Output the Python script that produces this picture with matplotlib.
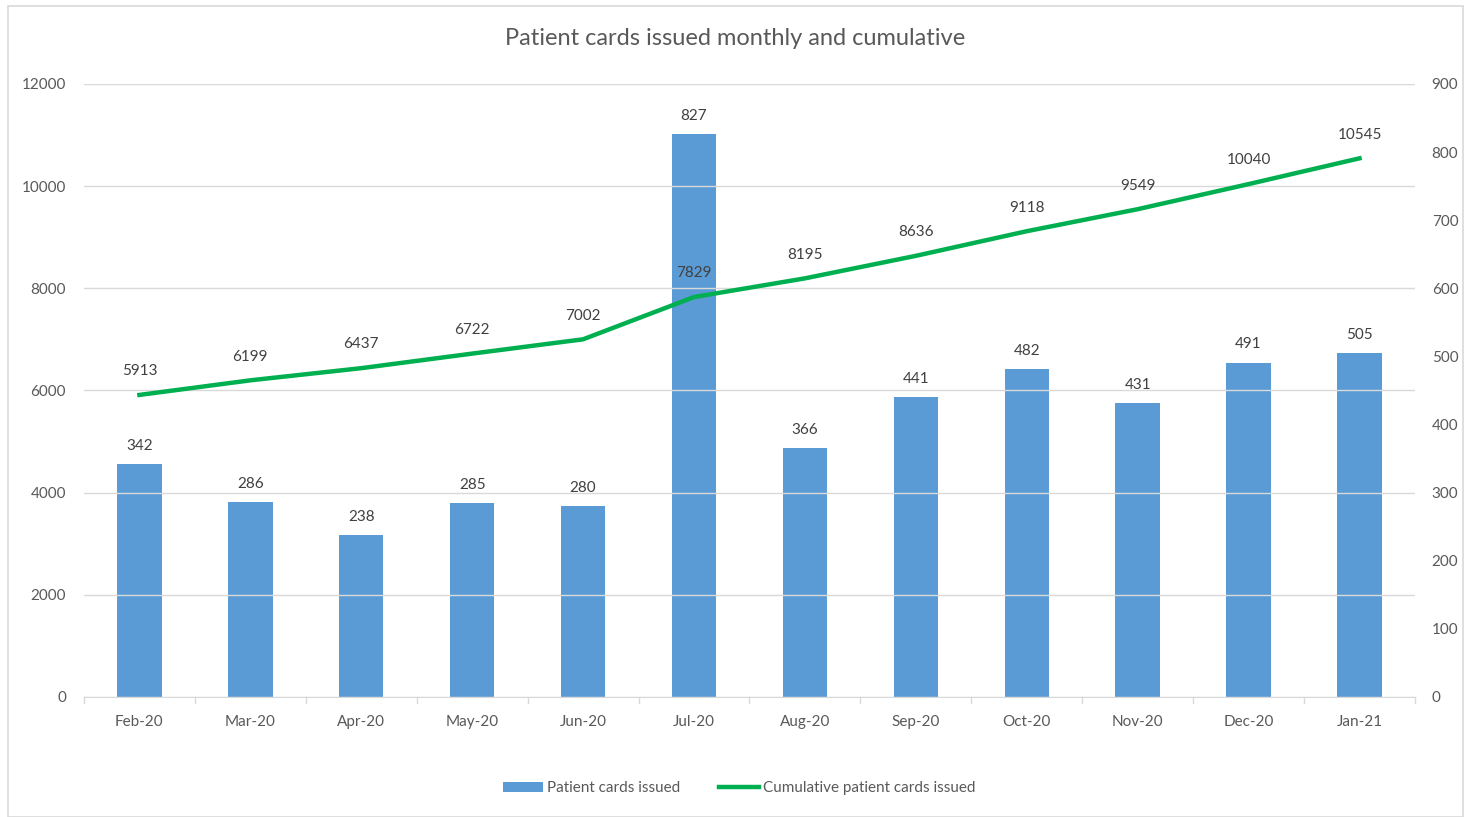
import matplotlib
matplotlib.use("Agg")
import matplotlib.pyplot as plt
from matplotlib.patches import Rectangle
import numpy as np

plt.rcParams['font.family'] = ['Lato', 'DejaVu Sans']

months = ['Feb-20', 'Mar-20', 'Apr-20', 'May-20', 'Jun-20', 'Jul-20',
          'Aug-20', 'Sep-20', 'Oct-20', 'Nov-20', 'Dec-20', 'Jan-21']
monthly = [342, 286, 238, 285, 280, 827, 366, 441, 482, 431, 491, 505]
cumulative = [5913, 6199, 6437, 6722, 7002, 7829, 8195, 8636, 9118, 9549, 10040, 10545]

bar_color = '#5B9BD5'
line_color = '#00B050'
text_color = '#595959'
grid_color = '#D9D9D9'

fig = plt.figure(figsize=(14.73, 8.17), dpi=100)
ax = fig.add_axes([0.057, 0.1469, 0.9036, 0.7503])
ax2 = ax.twinx()

x = np.arange(len(months))

# bars on the right axis, cumulative line on the left axis
ax2.bar(x, monthly, width=0.4, color=bar_color, label='Patient cards issued', zorder=2)
ax.plot(x, cumulative, color=line_color, lw=3.2, label='Cumulative patient cards issued', zorder=3)

ax.set_ylim(0, 12000)
ax.set_yticks(range(0, 12001, 2000))
ax2.set_ylim(0, 900)
ax2.set_yticks(range(0, 901, 100))
ax.set_xlim(-0.5, len(months) - 0.5)
ax.set_xticks(x)
ax.set_xticklabels(months)

ax.set_zorder(ax2.get_zorder() + 1)
ax.patch.set_visible(False)

ax.grid(axis='y', color=grid_color, lw=1)
ax.set_axisbelow(True)
for a in (ax, ax2):
    for s in a.spines.values():
        s.set_visible(False)
    a.tick_params(length=0, colors=text_color, labelsize=11)
ax.spines['bottom'].set_visible(True)
ax.spines['bottom'].set_color(grid_color)
ax.tick_params(axis='y', pad=13)
ax2.tick_params(axis='y', pad=12)
ax.tick_params(axis='x', pad=13)

# category boundary ticks
for b in np.arange(-0.5, len(months), 1.0):
    ax.plot([b, b], [0, -120], color=grid_color, lw=1, clip_on=False, zorder=1)

for xi, v in zip(x, monthly):
    ax2.annotate(str(v), (xi, v), xytext=(0, 8), textcoords='offset points',
                 ha='center', va='bottom', fontsize=11, color='#404040')
for xi, v in zip(x, cumulative):
    ax.annotate(str(v), (xi, v), xytext=(0, 12), textcoords='offset points',
                ha='center', va='bottom', fontsize=11, color='#404040')

fig.text(0.499, 0.953, 'Patient cards issued monthly and cumulative', fontsize=17,
         color=text_color, ha='center', va='center')

h1, l1 = ax2.get_legend_handles_labels()
h2, l2 = ax.get_legend_handles_labels()
fig.legend(h1 + h2, l1 + l2, loc='center', bbox_to_anchor=(0.502, 0.035), ncol=2,
           frameon=False, fontsize=11, labelcolor=text_color, handlelength=2.6,
           handletextpad=0.3, columnspacing=2.5)

fig.patches.append(Rectangle((8 / 1473, 0.0), 1455 / 1473, 1 - 6 / 817,
                             transform=fig.transFigure, fill=False,
                             edgecolor='#D9D9D9', lw=1.2))

fig.savefig('out.png', dpi=100)
